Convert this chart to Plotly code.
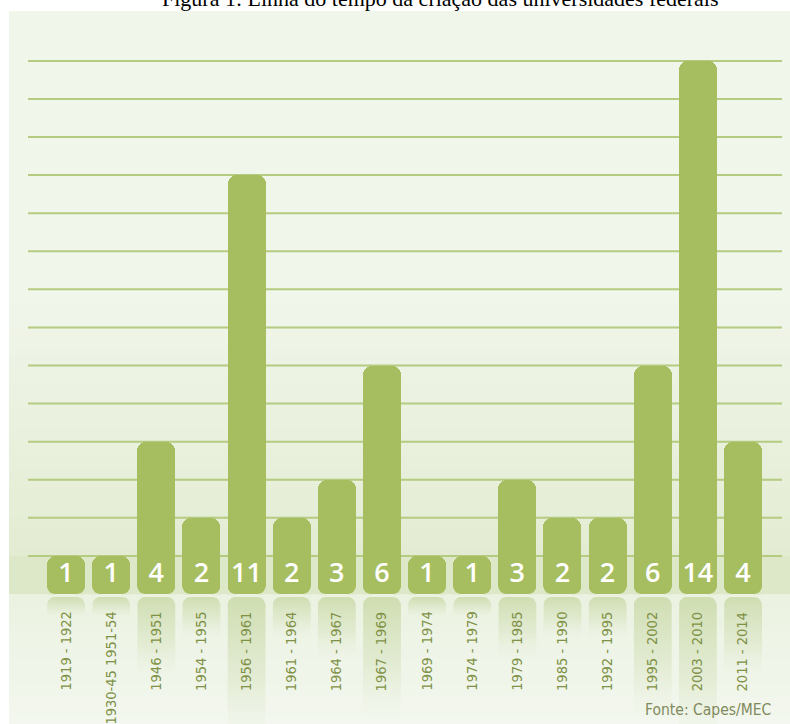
import math
import plotly.graph_objects as go

# ---- data ----
periods = ["1919 - 1922", "1930-45 1951-54", "1946 - 1951", "1954 - 1955", "1956 - 1961",
           "1961 - 1964", "1964 - 1967", "1967 - 1969", "1969 - 1974", "1974 - 1979",
           "1979 - 1985", "1985 - 1990", "1992 - 1995", "1995 - 2002", "2003 - 2010",
           "2011 - 2014"]
counts = [1, 1, 4, 2, 11, 2, 3, 6, 1, 1, 3, 2, 2, 6, 14, 4]
grid_values = list(range(1, 15))

title_text = "Figura 1: Linha do tempo da criação das universidades federais"
source_text = "Fonte: Capes/MEC"

# ---- styling ----
BAR = "#a6be5f"
GRID = "#b4cb80"
BAND = "#dde8c8"
LABEL = "#7f9147"
XR = [-1.263, 16.042]
YR = [-3.414, 15.31]
BW = 0.842
RX, RY = 0.177, 0.21   # ~8px corner radius in axis units

def mix(c1, c2, t):
    a = [int(c1[i:i + 2], 16) for i in (1, 3, 5)]
    b = [int(c2[i:i + 2], 16) for i in (1, 3, 5)]
    return "rgb(%d,%d,%d)" % tuple(round(a[k] + (b[k] - a[k]) * t) for k in range(3))

x = list(range(len(counts)))
fig = go.Figure()

shapes = []
# upper background gradient
n = 40
for i in range(n):
    y0 = 1 + (7.0 * i / n)
    y1 = 1 + (7.0 * (i + 1) / n) + 0.01
    shapes.append(dict(type="rect", xref="x", yref="y", x0=XR[0] - 1, x1=XR[1] + 1, y0=y0, y1=y1,
                       fillcolor=mix("#e3ecd2", "#f1f6eb", (i + 0.5) / n), line_width=0, layer="below"))
# band behind value numbers
shapes.append(dict(type="rect", xref="x", yref="y", x0=XR[0] - 1, x1=XR[1] + 1, y0=0, y1=1.005,
                   fillcolor=BAND, line_width=0, layer="below"))
# lower background gradient
m = 20
span = -YR[0]
for i in range(m):
    y1 = -span * i / m
    y0 = -span * (i + 1) / m - 0.01
    shapes.append(dict(type="rect", xref="x", yref="y", x0=XR[0] - 1, x1=XR[1] + 1, y0=y0, y1=y1,
                       fillcolor=mix("#ebf2e1", "#f3f7ef", (i + 0.5) / m), line_width=0, layer="below"))
# grid lines
for g in grid_values:
    shapes.append(dict(type="line", xref="x", yref="y", x0=-0.842, x1=15.865, y0=g, y1=g,
                       line=dict(color=GRID, width=2), layer="below"))

# bars (rounded top)
fig.add_trace(go.Bar(x=x, y=counts, width=BW,
                     marker=dict(color=BAR, line_width=0, cornerradius=9),
                     hoverinfo="skip", showlegend=False))

# bottom-corner masks so the bar feet look rounded
for xi in x:
    L, R = xi - BW / 2, xi + BW / 2
    for side in (-1, 1):
        cx = (L + RX) if side < 0 else (R - RX)
        ex = (L - 0.01) if side < 0 else (R + 0.01)
        px, py = [ex, ex], [-0.01, RY]
        for k in range(9):
            t = k * (math.pi / 2) / 8
            px.append(cx + side * RX * math.cos(t))
            py.append(RY - RY * math.sin(t))
        px.append(cx); py.append(-0.01)
        fig.add_trace(go.Scatter(x=px, y=py, mode="lines", line_width=0, fill="toself",
                                 fillcolor=BAND, hoverinfo="skip", showlegend=False))

# reflections (rounded top corners, fading downwards)
for xi, v in zip(x, counts):
    top = -0.08
    bot = max(top - 0.55 * v, YR[0] - 0.6)
    L, R = xi - BW / 2, xi + BW / 2
    px, py = [L], [bot]
    for k in range(7):
        a = math.pi - k * (math.pi / 2) / 6
        px.append(L + RX + RX * math.cos(a)); py.append(top - RY + RY * math.sin(a))
    for k in range(7):
        a = math.pi / 2 - k * (math.pi / 2) / 6
        px.append(R - RX + RX * math.cos(a)); py.append(top - RY + RY * math.sin(a))
    px += [R, L]; py += [bot, bot]
    fig.add_trace(go.Scatter(
        x=px, y=py, mode="lines", line_width=0, fill="toself",
        fillgradient=dict(type="vertical", start=top, stop=bot,
                          colorscale=[[0, "rgba(200,216,165,0.8)"], [0.55, "rgba(212,225,186,0.45)"],
                                      [1, "rgba(232,239,218,0)"]]),
        hoverinfo="skip", showlegend=False))

# value numbers
fig.add_trace(go.Scatter(x=x, y=[0.5] * len(counts), mode="text",
                         text=[str(v) for v in counts],
                         textfont=dict(family="Open Sans, Noto Sans, sans-serif", size=27,
                                       color="white", weight=600),
                         hoverinfo="skip", showlegend=False))

annotations = []
for xi, p in zip(x, periods):
    annotations.append(dict(x=xi, y=-0.42, xref="x", yref="y", text=p, textangle=-90,
                            showarrow=False, xanchor="center", yanchor="top",
                            font=dict(family="Liberation Sans Narrow, DejaVu Sans Condensed, sans-serif",
                                      size=14.5, color=LABEL)))
annotations.append(dict(x=(773 - 9) / 781, y=(724 - 710) / 713, xref="paper", yref="paper", text=source_text,
                        showarrow=False, xanchor="right", yanchor="middle",
                        font=dict(family="Liberation Sans Narrow, DejaVu Sans Condensed, sans-serif",
                                  size=15.5, color="#7f8a5c")))
annotations.append(dict(x=(440 - 9) / 781, y=1 + 13 / 713, xref="paper", yref="paper", text=title_text,
                        showarrow=False, xanchor="center", yanchor="middle",
                        font=dict(family="Liberation Serif, Times New Roman, serif", size=22, color="black")))

fig.update_layout(
    width=790, height=724,
    margin=dict(l=9, r=0, t=11, b=0),
    paper_bgcolor="white", plot_bgcolor="#f1f6eb",
    barmode="overlay", bargap=0,
    xaxis=dict(range=XR, showgrid=False, zeroline=False, showticklabels=False, fixedrange=True),
    yaxis=dict(range=YR, showgrid=False, zeroline=False, showticklabels=False, fixedrange=True),
    shapes=shapes, annotations=annotations,
)

fig.write_html("out.html", config={"displayModeBar": False},
               post_script="document.body.style.margin='0px';")
